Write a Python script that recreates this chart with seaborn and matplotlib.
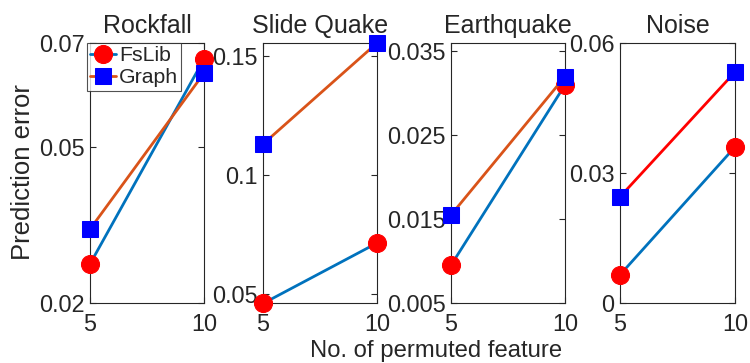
import matplotlib
matplotlib.use("Agg")
import matplotlib.pyplot as plt
import seaborn as sns
import pandas as pd

sns.set_theme(style="white")
plt.rcParams["font.family"] = ["Liberation Sans", "DejaVu Sans"]

# Number of permuted features on the x axis
n_permuted = [5, 10]

# Panel titles
datasets = ["Rockfall", "Slide Quake", "Earthquake", "Noise"]

# Prediction error per dataset
fslib_rockfall = [0.0275, 0.0669]
graph_rockfall = [0.0342, 0.0642]
fslib_slide = [0.0460, 0.0714]
graph_slide = [0.1130, 0.1555]
fslib_earth = [0.0095, 0.0310]
graph_earth = [0.0155, 0.0320]
fslib_noise = [0.0065, 0.0360]
graph_noise = [0.0245, 0.0533]

fslib_values = [fslib_rockfall, fslib_slide, fslib_earth, fslib_noise]
graph_values = [graph_rockfall, graph_slide, graph_earth, graph_noise]

# Axis limits and tick labels per panel
y_limits = [(0.02, 0.07), (0.0462, 0.1555), (0.005, 0.036), (0.0, 0.06)]
y_ticks = [[0.02, 0.05, 0.07], [0.05, 0.1, 0.15], [0.005, 0.015, 0.025, 0.035], [0.0, 0.03, 0.06]]
y_ticklabels = [["0.02", "0.05", "0.07"], ["0.05", "0.1", "0.15"],
                ["0.005", "0.015", "0.025", "0.035"], ["0", "0.03", "0.06"]]

FS_LINE = "#0072BD"
GRAPH_LINE = ["#D95319", "#D95319", "#D95319", "#FF0000"]
TXT = "#262626"

W, H = 750, 363
fig = plt.figure(figsize=(7.5, 3.63), dpi=100)

panel_px = [(90, 204), (263, 377), (451, 565), (620, 735)]
top_px, bot_px = 43, 303

axes = []
for i, name in enumerate(datasets):
    x0, x1 = panel_px[i]
    ax = fig.add_axes([x0 / W, 1 - bot_px / H, (x1 - x0) / W, (bot_px - top_px) / H])
    axes.append(ax)
    df = pd.DataFrame({"n": n_permuted, "fslib": fslib_values[i], "graph": graph_values[i]})
    sns.lineplot(data=df, x="n", y="fslib", ax=ax, color=FS_LINE, lw=2,
                 marker="o", markersize=13, markerfacecolor="#FF0000",
                 markeredgecolor="#FF0000", label="FsLib", zorder=3, clip_on=False)
    sns.lineplot(data=df, x="n", y="graph", ax=ax, color=GRAPH_LINE[i], lw=2,
                 marker="s", markersize=11, markerfacecolor="#0000FF",
                 markeredgecolor="#0000FF", label="Graph", zorder=3, clip_on=False)
    ax.set_xlim(5, 10)
    ax.set_ylim(*y_limits[i])
    ax.set_xticks(n_permuted)
    ax.set_xticklabels([str(v) for v in n_permuted])
    ax.set_yticks(y_ticks[i])
    ax.set_yticklabels(y_ticklabels[i])
    ax.set_xlabel("")
    ax.set_ylabel("")
    ax.set_title(name, fontsize=18, color=TXT, pad=7)
    ax.tick_params(axis="both", direction="in", length=4, width=0.8, colors=TXT,
                   labelsize=16.8, top=True, right=True, bottom=True, left=True)
    ax.tick_params(axis="x", pad=7)
    ax.tick_params(axis="y", pad=4)
    for s in ax.spines.values():
        s.set_visible(True)
        s.set_color(TXT)
        s.set_linewidth(0.8)
    ax.legend_.remove()

handles, labels = axes[0].get_legend_handles_labels()
leg = fig.legend(handles, labels, loc="upper left", bbox_to_anchor=(87 / W, 1 - 43 / H),
                 fontsize=15.3, frameon=True, fancybox=False, edgecolor=TXT,
                 borderpad=0.15, labelspacing=0.15, handlelength=1.2,
                 handletextpad=0.15, borderaxespad=0)
leg.get_frame().set_linewidth(0.8)
for t in leg.get_texts():
    t.set_color(TXT)

fig.text(23 / W, 1 - 172 / H, "Prediction error", rotation=90, ha="center", va="center",
         fontsize=18.5, color=TXT)
fig.text(436 / W, 1 - 351 / H, "No. of permuted feature", ha="center", va="center",
         fontsize=17.2, color=TXT)

fig.savefig("out.png", dpi=100)
